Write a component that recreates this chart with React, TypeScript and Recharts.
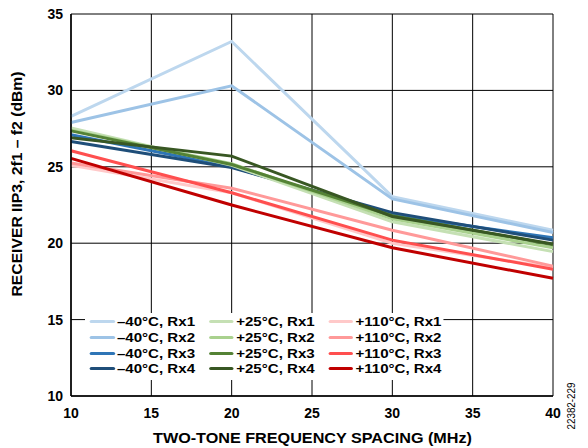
import { CartesianGrid, Line, LineChart, XAxis, YAxis } from "recharts";

const spacing = [10, 20, 30, 40];

const m40Rx1 = [28.3, 33.2, 23.05, 20.85];
const m40Rx2 = [27.9, 30.3, 22.9, 20.7];
const m40Rx3 = [27.1, 25.0, 21.85, 20.35];
const m40Rx4 = [26.65, 24.95, 22.0, 20.2];
const p25Rx1 = [27.55, 25.1, 21.4, 19.45];
const p25Rx2 = [27.4, 25.2, 21.6, 19.7];
const p25Rx3 = [27.35, 25.15, 21.8, 19.9];
const p25Rx4 = [26.9, 25.7, 21.75, 19.95];
const p110Rx1 = [25.1, 23.3, 20.0, 18.4];
const p110Rx2 = [25.25, 23.6, 20.85, 18.5];
const p110Rx3 = [26.05, 23.3, 20.2, 18.3];
const p110Rx4 = [25.55, 22.5, 19.7, 17.7];

const xTicks = [10, 15, 20, 25, 30, 35, 40];
const yTicks = [10, 15, 20, 25, 30, 35];

const series = [
  { key: "m40Rx1", name: "\u201340\u00b0C, Rx1", values: m40Rx1, color: "#bdd7ee" },
  { key: "m40Rx2", name: "\u201340\u00b0C, Rx2", values: m40Rx2, color: "#9dc3e6" },
  { key: "m40Rx3", name: "\u201340\u00b0C, Rx3", values: m40Rx3, color: "#2e75b6" },
  { key: "m40Rx4", name: "\u201340\u00b0C, Rx4", values: m40Rx4, color: "#1f4e79" },
  { key: "p25Rx1", name: "+25\u00b0C, Rx1", values: p25Rx1, color: "#c5e0b4" },
  { key: "p25Rx2", name: "+25\u00b0C, Rx2", values: p25Rx2, color: "#a9d18e" },
  { key: "p25Rx3", name: "+25\u00b0C, Rx3", values: p25Rx3, color: "#548235" },
  { key: "p25Rx4", name: "+25\u00b0C, Rx4", values: p25Rx4, color: "#385723" },
  { key: "p110Rx1", name: "+110\u00b0C, Rx1", values: p110Rx1, color: "#ffc9c9" },
  { key: "p110Rx2", name: "+110\u00b0C, Rx2", values: p110Rx2, color: "#ff9999" },
  { key: "p110Rx3", name: "+110\u00b0C, Rx3", values: p110Rx3, color: "#ff4f4f" },
  { key: "p110Rx4", name: "+110\u00b0C, Rx4", values: p110Rx4, color: "#c00000" },
];

const data = spacing.map((x, i) => {
  const row: Record<string, number> = { x };
  series.forEach((s) => (row[s.key] = s.values[i]));
  return row;
});

const font = "'Liberation Sans', Arial, sans-serif";
const tickStyle = { fill: "#000", fontFamily: font, fontWeight: "bold", fontSize: 14 };

// the source raster is a bit wider than tall, so the legend is stretched to match
function LegendBox() {
  const cols = [series.slice(0, 4), series.slice(4, 8), series.slice(8, 12)];
  return (
    <div
      style={{
        position: "absolute",
        left: 85,
        top: 313,
        display: "flex",
        background: "#fff",
        padding: "1px 2px 3px 4px",
        fontFamily: font,
        fontWeight: "bold",
        fontSize: 13,
        color: "#000",
        transform: "scaleX(1.16)",
        transformOrigin: "0 0",
        whiteSpace: "nowrap",
      }}
    >
      {cols.map((col, ci) => (
        <div key={ci} style={{ width: ci < 2 ? 102.8 : "auto" }}>
          {col.map((s) => (
            <div key={s.key} style={{ display: "flex", alignItems: "center", height: 15.67 }}>
              <span
                style={{
                  display: "inline-block",
                  width: 21.5,
                  height: 3,
                  borderRadius: 2,
                  background: s.color,
                  marginRight: 2,
                }}
              />
              <span>{s.name}</span>
            </div>
          ))}
        </div>
      ))}
    </div>
  );
}

export default function App() {
  return (
    <div style={{ position: "absolute", left: 0, top: 0, width: 588, height: 448, background: "#fff" }}>
      <LineChart
        width={588}
        height={448}
        data={data}
        margin={{ top: 14, right: 35, bottom: 22, left: 31 }}
      >
        <CartesianGrid stroke="#000" strokeWidth={1} />
        <XAxis
          dataKey="x"
          type="number"
          domain={[10, 40]}
          ticks={xTicks}
          height={30}
          tickSize={0}
          tickMargin={12}
          axisLine={{ stroke: "#000", strokeWidth: 1.5 }}
          tick={tickStyle}
        />
        <YAxis
          type="number"
          domain={[10, 35]}
          ticks={yTicks}
          width={40}
          tickSize={0}
          tickMargin={8}
          axisLine={{ stroke: "#000", strokeWidth: 1.5 }}
          tick={tickStyle}
        />
        {series.map((s) => (
          <Line
            key={s.key}
            dataKey={s.key}
            name={s.name}
            type="linear"
            stroke={s.color}
            strokeWidth={3}
            dot={false}
            activeDot={false}
            isAnimationActive={false}
          />
        ))}
        <text
          x={312.5}
          y={442.5}
          textAnchor="middle"
          textLength={319}
          lengthAdjust="spacingAndGlyphs"
          style={{ fontFamily: font, fontWeight: "bold", fontSize: 14, fill: "#000" }}
        >
          TWO-TONE FREQUENCY SPACING (MHz)
        </text>
        <text
          x={22}
          y={184}
          transform="rotate(-90 22 184)"
          textAnchor="middle"
          textLength={225}
          lengthAdjust="spacingAndGlyphs"
          style={{ fontFamily: font, fontWeight: "bold", fontSize: 14, fill: "#000" }}
        >
          {"RECEIVER IIP3, 2f1 \u2013 f2 (dBm)"}
        </text>
        <text
          x={575}
          y={406}
          transform="rotate(-90 575 406)"
          textAnchor="middle"
          textLength={47}
          lengthAdjust="spacingAndGlyphs"
          style={{ fontFamily: font, fontSize: 10, fill: "#000" }}
        >
          22382-229
        </text>
      </LineChart>
      <LegendBox />
    </div>
  );
}
